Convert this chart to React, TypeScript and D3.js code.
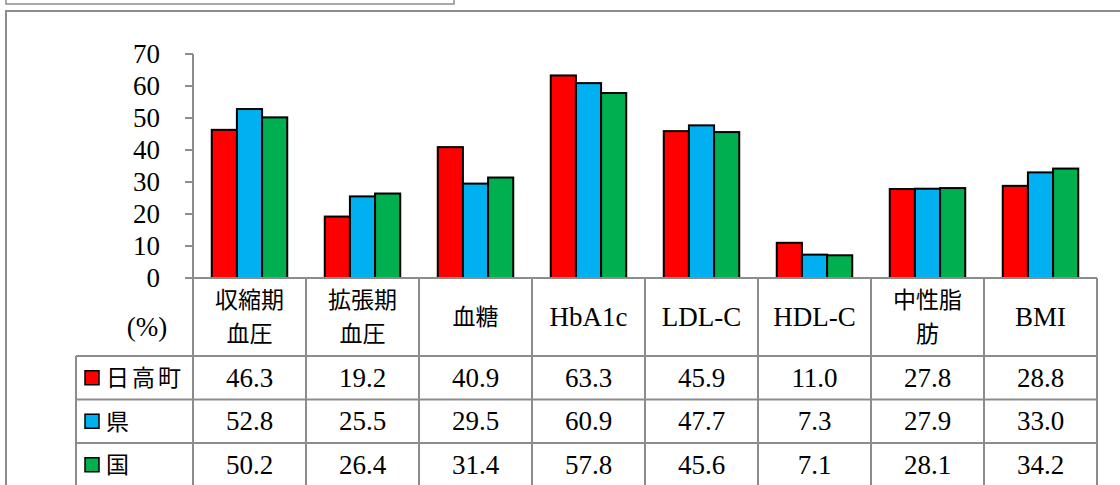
import React from 'react';
import * as d3 from 'd3';

const categories = ['収縮期\n血圧', '拡張期\n血圧', '血糖', 'HbA1c', 'LDL-C', 'HDL-C', '中性脂\n肪', 'BMI'];
const seriesNames = ['日高町', '県', '国'];
const hidaka = [46.3, 19.2, 40.9, 63.3, 45.9, 11.0, 27.8, 28.8];
const ken = [52.8, 25.5, 29.5, 60.9, 47.7, 7.3, 27.9, 33.0];
const kuni = [50.2, 26.4, 31.4, 57.8, 45.6, 7.1, 28.1, 34.2];
const colors = ['#ff0000', '#00b0f0', '#00b050'];

const W = 1120;
const H = 485;
const serif = '"Liberation Serif", serif';
const jp = '"Noto Sans CJK JP", sans-serif';
const grid = '#8c8c8c';

export default function App() {
  const values = [hidaka, ken, kuni];
  const left = 193;
  const right = 1097;
  const x = d3.scaleBand<string>().domain(categories).range([left, right]).paddingInner(0).paddingOuter(0);
  const bw = x.bandwidth();
  const inner = d3.scaleBand<string>().domain(seriesNames).range([bw * 0.166, bw * 0.834]).padding(0);
  const y = d3.scaleLinear().domain([0, 70]).range([278, 54]);
  const ticks = y.ticks(7);

  const headerTop = y(0);
  const headerBottom = 356;
  const rowH = 43.5;
  const legendLeft = 76;

  return (
    <svg width={W} height={H} style={{ position: 'absolute', left: 0, top: 0, background: '#fff' }}>
      {/* top box (partial) */}
      <rect x={6} y={-20} width={448} height={24} fill="none" stroke={grid} strokeWidth={1.5} />
      {/* main frame */}
      <rect x={6} y={11} width={W + 20} height={H} fill="none" stroke={grid} strokeWidth={2} />

      {/* y axis */}
      <line x1={left} x2={left} y1={y(70)} y2={y(0)} stroke={grid} strokeWidth={2} />
      {ticks.map((t) => (
        <g key={t}>
          <line x1={left - 8} x2={left} y1={y(t)} y2={y(t)} stroke={grid} strokeWidth={2} />
          <text x={160} y={y(t)} dy="0.34em" textAnchor="end" fontFamily={serif} fontSize={27} fill="#000">
            {t}
          </text>
        </g>
      ))}

      {/* bars */}
      {categories.map((c, i) => (
        <g key={c} transform={`translate(${x(c)},0)`}>
          {seriesNames.map((s, j) => (
            <rect
              key={s}
              x={inner(s)}
              y={y(values[j][i])}
              width={inner.bandwidth()}
              height={y(0) - y(values[j][i])}
              fill={colors[j]}
              stroke="#000"
              strokeWidth={2}
            />
          ))}
        </g>
      ))}

      {/* table lines */}
      <line x1={left - 8} x2={right} y1={headerTop} y2={headerTop} stroke={grid} strokeWidth={2} />
      {[0, 1, 2, 3].map((r) => (
        <line
          key={r}
          x1={legendLeft}
          x2={right}
          y1={headerBottom + r * rowH}
          y2={headerBottom + r * rowH}
          stroke={grid}
          strokeWidth={2}
        />
      ))}
      <line x1={legendLeft} x2={legendLeft} y1={headerBottom} y2={H + 5} stroke={grid} strokeWidth={2} />
      {[...categories.map((c) => x(c) as number), right].map((xx, k) => (
        <line key={k} x1={xx} x2={xx} y1={headerTop} y2={H + 5} stroke={grid} strokeWidth={2} />
      ))}

      {/* header labels */}
      <text x={147} y={327} dy="0.34em" textAnchor="middle" fontFamily={serif} fontSize={27}>
        (%)
      </text>
      {categories.map((c) => {
        const lines = c.split('\n');
        const cx = (x(c) as number) + bw / 2;
        const isJp = /[^\x00-\x7f]/.test(c);
        return (
          <text key={c} textAnchor="middle" fontFamily={isJp ? jp : serif} fontSize={isJp ? 23 : 27} fill="#000">
            {lines.length === 2 ? (
              <>
                <tspan x={cx} y={300} dy="0.36em">{lines[0]}</tspan>
                <tspan x={cx} y={334} dy="0.36em">{lines[1]}</tspan>
              </>
            ) : (
              <tspan x={cx} y={317} dy="0.34em">{lines[0]}</tspan>
            )}
          </text>
        );
      })}

      {/* rows */}
      {seriesNames.map((s, j) => {
        const cy = headerBottom + j * rowH + rowH / 2;
        return (
          <g key={s}>
            <rect x={85} y={cy - 7} width={14} height={14} fill={colors[j]} stroke="#000" strokeWidth={1.5} />
            <text x={106} y={cy} dy="0.36em" fontFamily={jp} fontSize={23} letterSpacing={3}>
              {s}
            </text>
            {categories.map((c, i) => (
              <text
                key={c}
                x={(x(c) as number) + bw / 2}
                y={cy}
                dy="0.34em"
                textAnchor="middle"
                fontFamily={serif}
                fontSize={27}
              >
                {values[j][i].toFixed(1)}
              </text>
            ))}
          </g>
        );
      })}
    </svg>
  );
}
